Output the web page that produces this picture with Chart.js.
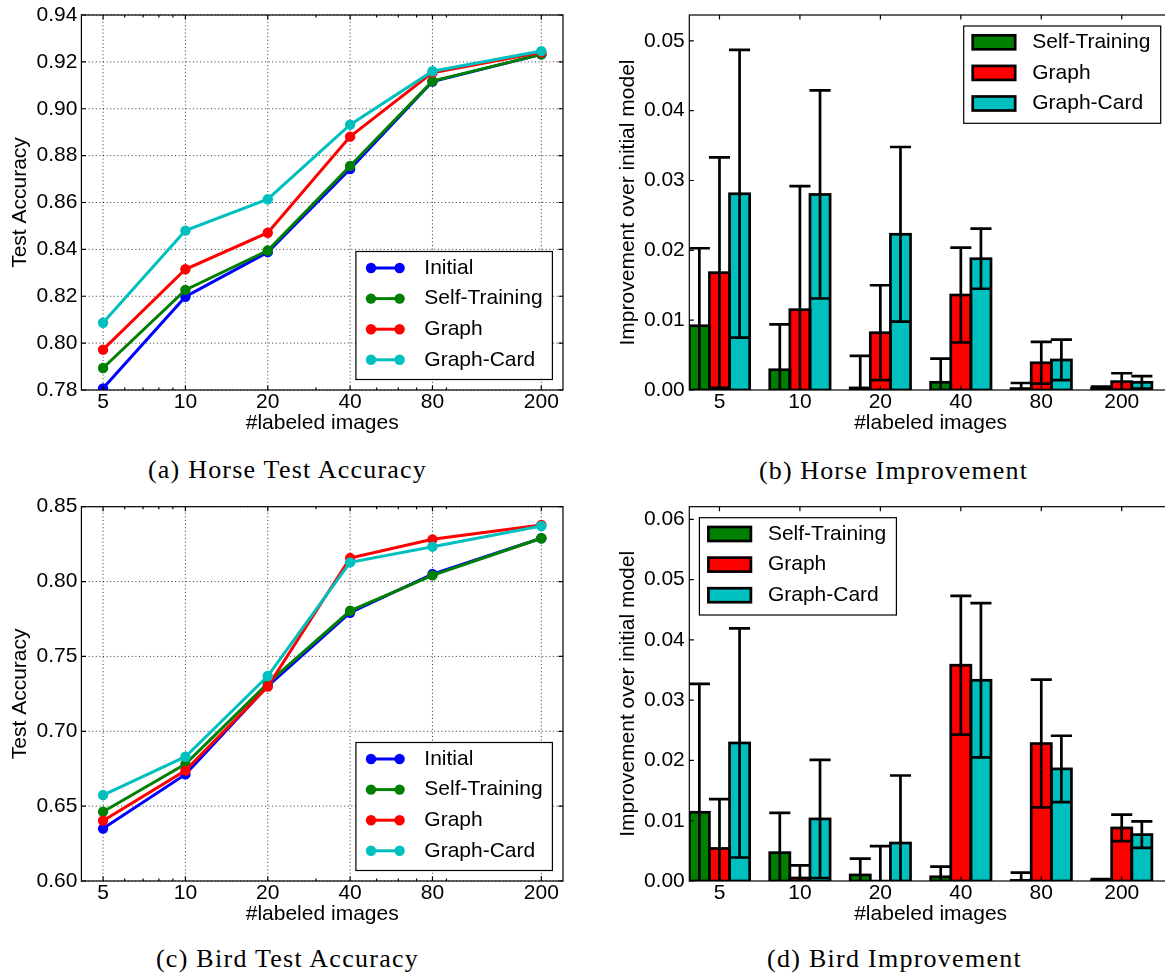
<!DOCTYPE html>
<html><head><meta charset="utf-8">
<script src="https://cdn.jsdelivr.net/npm/chart.js@4.4.0/dist/chart.umd.min.js"></script>
<style>
html,body{margin:0;padding:0;background:#fff;overflow:hidden;width:1165px;height:976px;position:relative;}
canvas{position:absolute;}
.cap{position:absolute;font-family:'Liberation Serif','Times New Roman',serif;font-size:26px;color:#000;white-space:nowrap;line-height:30px;transform:translate(-50%,-50%);}
</style></head><body>
<canvas id="cA" width="580" height="445" style="left:0px;top:0px"></canvas>
<canvas id="cB" width="600" height="445" style="left:580px;top:0px"></canvas>
<canvas id="cC" width="580" height="445" style="left:0px;top:491px"></canvas>
<canvas id="cD" width="600" height="445" style="left:580px;top:491px"></canvas>
<div class="cap" id="capA" style="left:287.5px;top:470px">(a) Horse Test Accuracy</div>
<div class="cap" id="capB" style="left:893.5px;top:471px">(b) Horse Improvement</div>
<div class="cap" id="capC" style="left:287.5px;top:959px">(c) Bird Test Accuracy</div>
<div class="cap" id="capD" style="left:894.5px;top:959px">(d) Bird Improvement</div>
<script>
// ---------------- data ----------------
const categories = [5, 10, 20, 40, 80, 200];
const xTickLabels = ['5', '10', '20', '40', '80', '200'];
const lineSeriesNames = ['Initial', 'Self-Training', 'Graph', 'Graph-Card'];
const barSeriesNames = ['Self-Training', 'Graph', 'Graph-Card'];
const logMinorTicks = [6, 7, 8, 9, 30, 50, 60, 70, 90];

const horseAccTicks = [0.78, 0.80, 0.82, 0.84, 0.86, 0.88, 0.90, 0.92, 0.94];
const birdAccTicks = [0.60, 0.65, 0.70, 0.75, 0.80, 0.85];
const horseImpTicks = [0.00, 0.01, 0.02, 0.03, 0.04, 0.05];
const birdImpTicks = [0.00, 0.01, 0.02, 0.03, 0.04, 0.05, 0.06];

// (a) Horse test accuracy
const horseInitial = [0.7807, 0.8198, 0.8388, 0.8743, 0.9116, 0.9232];
const horseSelf    = [0.7894, 0.8227, 0.8395, 0.8756, 0.9118, 0.9232];
const horseGraph   = [0.7972, 0.8315, 0.8471, 0.8881, 0.9154, 0.9241];
const horseCard    = [0.8087, 0.8480, 0.8614, 0.8932, 0.9160, 0.9246];

// (c) Bird test accuracy
const birdInitial = [0.6350, 0.6712, 0.7302, 0.7792, 0.8050, 0.8289];
const birdSelf    = [0.6463, 0.6781, 0.7320, 0.7805, 0.8041, 0.8289];
const birdGraph   = [0.6403, 0.6737, 0.7298, 0.8157, 0.8282, 0.8378];
const birdCard    = [0.6574, 0.6830, 0.7369, 0.8128, 0.8233, 0.8371];

// (b) Horse improvement over initial model (+ error)
const horseSelfImp  = [0.0092, 0.0029, 0.0003, 0.0011, 0.0002, 0.0003];
const horseSelfErr  = [0.0111, 0.0065, 0.0046, 0.0034, 0.0008, 0.0002];
const horseGraphImp = [0.0168, 0.0115, 0.0082, 0.0136, 0.0039, 0.0012];
const horseGraphErr = [0.0165, 0.0177, 0.0068, 0.0068, 0.0030, 0.0012];
const horseCardImp  = [0.0281, 0.0280, 0.0223, 0.0188, 0.0043, 0.0011];
const horseCardErr  = [0.0206, 0.0149, 0.0125, 0.0043, 0.0029, 0.0009];

// (d) Bird improvement over initial model (+ error)
const birdSelfImp  = [0.0114, 0.0047, 0.0010, 0.0007, 0.0001, 0.0002];
const birdSelfErr  = [0.0213, 0.0066, 0.0027, 0.0017, 0.0013, 0.0001];
const birdGraphImp = [0.0054, 0.0005, 0.0000, 0.0358, 0.0228, 0.0088];
const birdGraphErr = [0.0082, 0.0021, 0.0058, 0.0115, 0.0106, 0.0022];
const birdCardImp  = [0.0229, 0.0103, 0.0063, 0.0333, 0.0186, 0.0077];
const birdCardErr  = [0.0190, 0.0098, 0.0112, 0.0128, 0.0055, 0.0022];

// ---------------- styling ----------------
const lineColors = ['#0000ff', '#008000', '#ff0000', '#00bfbf'];
const barColors = ['#008000', '#ff0000', '#00bfbf'];
const FONT = "'Liberation Sans', Arial, Helvetica, sans-serif";
Chart.defaults.font.family = FONT;
Chart.defaults.font.size = 21;
Chart.defaults.color = '#000';
const EDGE = 2.7;

// frame, dotted grid and inward ticks like matplotlib
const axesPlugin = {
  id: 'mplAxes',
  beforeDatasetsDraw(chart, args, o) {
    if (!o.grid) return;
    const {ctx, chartArea: a, scales: {x, y}} = chart;
    ctx.save();
    ctx.strokeStyle = '#000'; ctx.lineWidth = 0.8; ctx.setLineDash([1, 2.6]);
    x.ticks.forEach(t => {
      const px = x.getPixelForValue(t.value);
      ctx.beginPath(); ctx.moveTo(px, a.bottom); ctx.lineTo(px, a.top); ctx.stroke();
    });
    y.ticks.forEach(t => {
      const py = y.getPixelForValue(t.value);
      ctx.beginPath(); ctx.moveTo(a.left, py); ctx.lineTo(a.right, py); ctx.stroke();
    });
    ctx.restore();
  },
  afterDatasetsDraw(chart, args, o) {
    const {ctx, chartArea: a, scales: {x, y}} = chart;
    ctx.save();
    ctx.strokeStyle = '#000'; ctx.lineWidth = 1.2;
    const L = 4.5, Lm = 2.5;
    ctx.beginPath();
    x.ticks.forEach(t => {
      const px = x.getPixelForValue(t.value);
      ctx.moveTo(px, a.bottom); ctx.lineTo(px, a.bottom - L);
      ctx.moveTo(px, a.top); ctx.lineTo(px, a.top + L);
    });
    (o.minor || []).forEach(v => {
      const px = x.getPixelForValue(v);
      ctx.moveTo(px, a.bottom); ctx.lineTo(px, a.bottom - Lm);
      ctx.moveTo(px, a.top); ctx.lineTo(px, a.top + Lm);
    });
    y.ticks.forEach(t => {
      const py = y.getPixelForValue(t.value);
      ctx.moveTo(a.left, py); ctx.lineTo(a.left + L, py);
      ctx.moveTo(a.right, py); ctx.lineTo(a.right - L, py);
    });
    ctx.stroke();
    ctx.strokeRect(a.left, a.top, a.right - a.left, a.bottom - a.top);
    ctx.restore();
  }
};

// bar edges (centred on the bar outline, like matplotlib) and symmetric error bars
const errorBarPlugin = {
  id: 'errorBars',
  afterDatasetsDraw(chart) {
    const {ctx, chartArea: a, scales: {y}} = chart;
    ctx.save();
    ctx.beginPath(); ctx.rect(a.left, a.top, a.right - a.left, a.bottom - a.top); ctx.clip();
    ctx.strokeStyle = '#000'; ctx.lineWidth = EDGE;
    chart.data.datasets.forEach((ds, i) => {
      chart.getDatasetMeta(i).data.forEach(bar => {
        ctx.strokeRect(bar.x - bar.width / 2, Math.min(bar.y, bar.base), bar.width, Math.abs(bar.base - bar.y));
      });
    });
    chart.data.datasets.forEach((ds, i) => {
      if (!ds.errors) return;
      const meta = chart.getDatasetMeta(i);
      meta.data.forEach((bar, j) => {
        const v = ds.data[j].y, e = ds.errors[j];
        const yt = y.getPixelForValue(v + e), yb = y.getPixelForValue(v - e);
        const hw = bar.width / 2 + 0.5;
        ctx.beginPath();
        ctx.moveTo(bar.x, yt); ctx.lineTo(bar.x, yb);
        ctx.moveTo(bar.x - hw, yt); ctx.lineTo(bar.x + hw, yt);
        ctx.moveTo(bar.x - hw, yb); ctx.lineTo(bar.x + hw, yb);
        ctx.stroke();
      });
    });
    ctx.restore();
  }
};

// boxed legend inside the axes
const legendPlugin = {
  id: 'mplLegend',
  afterDraw(chart, args, o) {
    const {ctx, chartArea: a} = chart;
    const left = o.loc === 'upperLeft' ? a.left + o.dx : a.right - o.dx - o.w;
    const top = o.loc === 'lowerRight' ? a.bottom - o.dy - o.h : a.top + o.dy;
    ctx.save();
    ctx.fillStyle = '#fff'; ctx.fillRect(left, top, o.w, o.h);
    ctx.strokeStyle = '#000'; ctx.lineWidth = 1.2; ctx.strokeRect(left, top, o.w, o.h);
    ctx.font = '21px ' + FONT;
    ctx.textBaseline = 'middle'; ctx.textAlign = 'left';
    chart.data.datasets.forEach((d, i) => {
      const cy = top + o.row0 + i * o.rowGap;
      if (o.kind === 'line') {
        ctx.strokeStyle = d.borderColor; ctx.lineWidth = 3;
        ctx.beginPath(); ctx.moveTo(left + o.s0, cy); ctx.lineTo(left + o.s1, cy); ctx.stroke();
        ctx.fillStyle = d.borderColor;
        [o.s0, o.s1].forEach(sx => { ctx.beginPath(); ctx.arc(left + sx, cy, 5.2, 0, 2 * Math.PI); ctx.fill(); });
      } else {
        ctx.fillStyle = d.backgroundColor;
        ctx.fillRect(left + o.s0, cy - 7, o.s1 - o.s0, 14);
        ctx.strokeStyle = '#000'; ctx.lineWidth = EDGE;
        ctx.strokeRect(left + o.s0, cy - 7, o.s1 - o.s0, 14);
      }
      ctx.fillStyle = '#000';
      ctx.fillText(d.label, left + o.tx, cy);
    });
    ctx.restore();
  }
};

function makeLineChart(id, series, yTicks, padTop) {
  return new Chart(document.getElementById(id), {
    type: 'line',
    data: {
      datasets: series.map((vals, i) => ({
        label: lineSeriesNames[i],
        data: vals.map((v, j) => ({x: categories[j], y: v})),
        borderColor: lineColors[i], backgroundColor: lineColors[i],
        pointBackgroundColor: lineColors[i], pointBorderColor: lineColors[i],
        borderWidth: 3, pointRadius: 5.2, pointHoverRadius: 5.2, pointBorderWidth: 0,
        tension: 0, clip: 0, order: series.length - i
      }))
    },
    options: {
      responsive: false, animation: false, events: [],
      layout: {padding: {left: 0, top: padTop, right: 17, bottom: 0}},
      plugins: {
        legend: {display: false}, tooltip: {enabled: false},
        mplAxes: {grid: true, minor: logMinorTicks},
        mplLegend: {kind: 'line', loc: 'lowerRight', dx: 10.6, dy: 10.5, w: 196.5, h: 128,
                    row0: 16.5, rowGap: 30.6, s0: 15.1, s1: 43.7, tx: 68.4}
      },
      scales: {
        x: {
          type: 'logarithmic', bounds: 'data', min: categories[0] / 1.2, max: categories[categories.length - 1] * 1.2,
          afterBuildTicks: s => { s.ticks = categories.map(v => ({value: v})); },
          ticks: {callback: (v, i) => xTickLabels[i], padding: 0, autoSkip: false, maxRotation: 0, minRotation: 0},
          grid: {display: false, drawTicks: false}, border: {display: false},
          title: {display: true, text: '#labeled images', padding: {top: 0, bottom: 9}},
          afterFit: s => { s.height = 55; s.paddingLeft = 0; s.paddingRight = 0; }
        },
        y: {
          bounds: 'data', min: yTicks[0], max: yTicks[yTicks.length - 1],
          afterBuildTicks: s => { s.ticks = yTicks.map(v => ({value: v})); },
          ticks: {callback: v => v.toFixed(2), padding: 4, autoSkip: false},
          grid: {display: false, drawTicks: false}, border: {display: false},
          title: {display: true, text: 'Test Accuracy', padding: {top: 7.7, bottom: 0}},
          afterFit: s => { s.width = 81.4; s.paddingTop = 0; s.paddingBottom = 0; }
        }
      }
    },
    plugins: [axesPlugin, legendPlugin]
  });
}

function makeBarChart(id, vals, errs, yTicks, yMax, padTop, legendLoc, legendDx) {
  return new Chart(document.getElementById(id), {
    type: 'bar',
    data: {
      datasets: vals.map((v, i) => ({
        label: barSeriesNames[i],
        data: v.map((y, j) => ({x: j, y: y})),
        errors: errs[i],
        backgroundColor: barColors[i], borderWidth: 0, borderSkipped: false, inflateAmount: 0,
        categoryPercentage: 0.75, barPercentage: 1, grouped: true
      }))
    },
    options: {
      responsive: false, animation: false, events: [],
      layout: {padding: {left: 0, top: padTop, right: 8, bottom: 0}},
      plugins: {
        legend: {display: false}, tooltip: {enabled: false},
        mplAxes: {grid: false},
        mplLegend: {kind: 'bar', loc: legendLoc, dx: legendDx, dy: 11, w: 197, h: 97.3,
                    row0: 16.3, rowGap: 30.6, s0: 9, s1: 51.5, tx: 68.5}
      },
      scales: {
        x: {
          type: 'linear', bounds: 'data', offset: false, min: -0.375, max: categories.length - 0.375,
          afterBuildTicks: s => { s.ticks = categories.map((c, i) => ({value: i})); },
          ticks: {callback: (v, i) => xTickLabels[i], padding: 0, autoSkip: false, maxRotation: 0, minRotation: 0},
          grid: {display: false, drawTicks: false, offset: false}, border: {display: false},
          title: {display: true, text: '#labeled images', padding: {top: 0, bottom: 9}},
          afterFit: s => { s.height = 55; s.paddingLeft = 0; s.paddingRight = 0; }
        },
        y: {
          bounds: 'data', min: 0, max: yMax, beginAtZero: true,
          afterBuildTicks: s => { s.ticks = yTicks.map(v => ({value: v})); },
          ticks: {callback: v => v.toFixed(2), padding: 4.5, autoSkip: false},
          grid: {display: false, drawTicks: false}, border: {display: false},
          title: {display: true, text: 'Improvement over initial model', padding: {top: 35.2, bottom: 0}},
          afterFit: s => { s.width = 109.3; s.paddingTop = 0; s.paddingBottom = 0; }
        }
      }
    },
    plugins: [errorBarPlugin, axesPlugin, legendPlugin]
  });
}

makeLineChart('cA', [horseInitial, horseSelf, horseGraph, horseCard], horseAccTicks, 15);
makeLineChart('cC', [birdInitial, birdSelf, birdGraph, birdCard], birdAccTicks, 15.7);
makeBarChart('cB', [horseSelfImp, horseGraphImp, horseCardImp], [horseSelfErr, horseGraphErr, horseCardErr],
             horseImpTicks, 0.0537, 15, 'upperRight', 11.3);
makeBarChart('cD', [birdSelfImp, birdGraphImp, birdCardImp], [birdSelfErr, birdGraphErr, birdCardErr],
             birdImpTicks, 0.0621, 15.7, 'upperLeft', 10.1);

// captions: stretch letter spacing to the reference widths
const capWidths = {capA: 281, capB: 269, capC: 265, capD: 255};
const mctx = document.createElement('canvas').getContext('2d');
mctx.font = "26px 'Liberation Serif', 'Times New Roman', serif";
Object.keys(capWidths).forEach(id => {
  const el = document.getElementById(id);
  const w = mctx.measureText(el.textContent).width;
  el.style.letterSpacing = ((capWidths[id] - w) / el.textContent.length).toFixed(2) + 'px';
});
</script>
</body></html>
